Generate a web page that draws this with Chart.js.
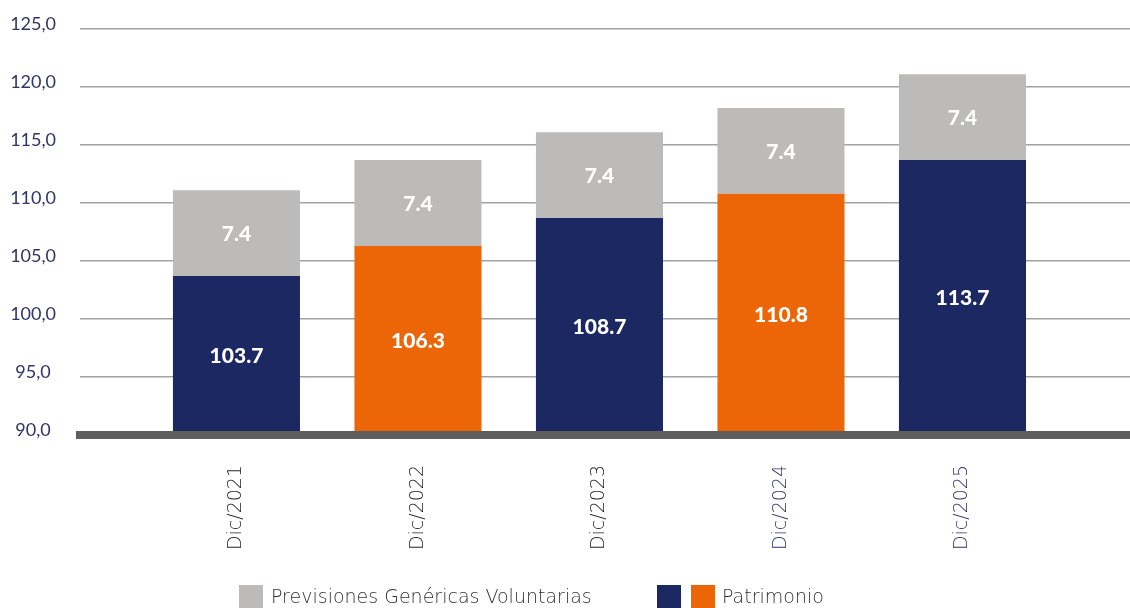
<!DOCTYPE html>
<html>
<head>
<meta charset="utf-8">
<script src="https://cdn.jsdelivr.net/npm/chart.js@4.4.1/dist/chart.umd.min.js"></script>
<style>
	body { margin: 0; background: #fff; }
	.chart-container { position: relative; width: 1130px; height: 608px; }
	.legend-box { position: absolute; top: 585px; width: 24px; height: 23px; }
	.legend-text { position: absolute; top: 584px; line-height: 24px; font-family: "DejaVu Sans", sans-serif; font-weight: 300; font-size: 19px; color: #333; white-space: nowrap; }
</style>
</head>
<body>
<div class="chart-container">
	<canvas id="chart" width="1130" height="608"></canvas>
</div>
<script>
var years = ["Dic/2021", "Dic/2022", "Dic/2023", "Dic/2024", "Dic/2025"];
var patrimonio = [103.7, 106.3, 108.7, 110.8, 113.7];
var previsiones = [7.4, 7.4, 7.4, 7.4, 7.4];
var seriesNames = ["Previsiones Genéricas Voluntarias", "Patrimonio"];

var NAVY = "#1b2862";
var ORANGE = "#ec6608";
var GRAY = "#bcbbb9";
var patrimonioColors = [NAVY, ORANGE, NAVY, ORANGE, NAVY];
var yearColors = ["#1e1e1e", "#1e1e1e", "#1e1e1e", "#2c3468", "#2c3468"];

function toPoints(values) {
	return values.map(function (v, i) {
		return { x: i, y: v };
	});
}

// etiquetas blancas dentro de cada segmento
var valueLabels = {
	id: "valueLabels",
	afterDatasetsDraw: function (chart) {
		var ctx = chart.ctx;
		var bottom = chart.chartArea.bottom;
		ctx.save();
		ctx.fillStyle = "#fff";
		ctx.font = "900 21px Lato";
		ctx.textAlign = "center";
		ctx.textBaseline = "middle";
		chart.data.datasets.forEach(function (ds, i) {
			chart.getDatasetMeta(i).data.forEach(function (bar, j) {
				var p = bar.getProps(["x", "y", "base"], true);
				var base = Math.min(p.base, bottom);
				ctx.fillText(ds.data[j].y.toFixed(1), p.x, (p.y + base) / 2 + 1);
			});
		});
		ctx.restore();
	}
};

function makeLegend() {
	var box = document.querySelector(".chart-container");
	var items = [
		{ left: 239, color: GRAY },
		{ left: 271, text: seriesNames[0] },
		{ left: 657, color: NAVY },
		{ left: 691, color: ORANGE },
		{ left: 722, text: seriesNames[1] }
	];
	for (var i = 0; i < items.length; i++) {
		var el = document.createElement("span");
		el.style.left = items[i].left + "px";
		if (items[i].text) {
			el.className = "legend-text";
			el.textContent = items[i].text;
		} else {
			el.className = "legend-box";
			el.style.background = items[i].color;
		}
		box.appendChild(el);
	}
}

var ctx = document.getElementById("chart").getContext("2d");
var chart = new Chart(ctx, {
	type: "bar",
	data: {
		datasets: [{
			label: seriesNames[1],
			data: toPoints(patrimonio),
			backgroundColor: patrimonioColors
		}, {
			label: seriesNames[0],
			data: toPoints(previsiones),
			backgroundColor: GRAY
		}]
	},
	options: {
		responsive: false,
		animation: false,
		categoryPercentage: 1,
		barPercentage: 0.7,
		layout: { padding: { top: 29, right: 0, bottom: 0, left: 0 } },
		plugins: {
			legend: { display: false },
			tooltip: { enabled: false }
		},
		scales: {
			x: {
				type: "linear",
				stacked: true,
				offset: false,
				min: -0.862,
				max: 4.923,
				grid: { display: false, drawTicks: false, offset: false },
				border: { display: true, width: 8, color: "#5e5e5e", z: 1 },
				ticks: {
					stepSize: 1,
					includeBounds: false,
					autoSkip: false,
					maxRotation: 90,
					minRotation: 90,
					padding: 30,
					color: yearColors,
					font: { family: "DejaVu Sans", size: 19, weight: 300 },
					callback: function (v) {
						return years[v];
					}
				},
				afterFit: function (scale) {
					scale.height = 173;
				}
			},
			y: {
				stacked: true,
				min: 90,
				max: 125,
				grid: { color: "#a2a2a2", lineWidth: 1.5, drawTicks: false },
				border: { display: false },
				ticks: {
					stepSize: 5,
					padding: 24,
					labelOffset: -5,
					crossAlign: "center",
					color: "#2f3566",
					font: { family: "Lato", size: 18 },
					callback: function (v) {
						return v.toFixed(1).replace(".", ",");
					}
				},
				afterFit: function (scale) {
					scale.width = 80;
					scale.paddingTop = 10;
					scale.paddingBottom = 10;
				}
			}
		}
	},
	plugins: [valueLabels]
});

makeLegend();
</script>
</body>
</html>
